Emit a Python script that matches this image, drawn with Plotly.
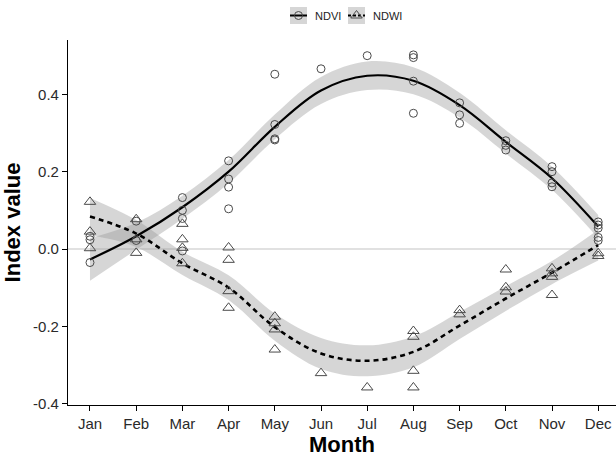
import plotly.graph_objects as go

# ---- data -------------------------------------------------------------
months = ["Jan", "Feb", "Mar", "Apr", "May", "Jun",
          "Jul", "Aug", "Sep", "Oct", "Nov", "Dec"]

# observed index values per month
ndvi_obs = {
    "Jan": [-0.035, 0.024, 0.033],
    "Feb": [0.072, 0.022],
    "Mar": [0.133, 0.100, 0.079, -0.005],
    "Apr": [0.228, 0.181, 0.160, 0.104],
    "May": [0.452, 0.322, 0.285, 0.282],
    "Jun": [0.466],
    "Jul": [0.500],
    "Aug": [0.502, 0.495, 0.434, 0.351],
    "Sep": [0.378, 0.347, 0.325],
    "Oct": [0.280, 0.268, 0.256],
    "Nov": [0.213, 0.200, 0.171, 0.161],
    "Dec": [0.070, 0.062, 0.054, 0.030, 0.022],
}
ndwi_obs = {
    "Jan": [0.122, 0.045, 0.002],
    "Feb": [0.077, 0.025, -0.010],
    "Mar": [0.065, 0.025, 0.003, -0.037],
    "Apr": [0.004, -0.028, -0.109, -0.152],
    "May": [-0.175, -0.192, -0.208, -0.260],
    "Jun": [-0.321],
    "Jul": [-0.358],
    "Aug": [-0.212, -0.227, -0.315, -0.358],
    "Sep": [-0.158, -0.169],
    "Oct": [-0.053, -0.099, -0.110],
    "Nov": [-0.050, -0.063, -0.072, -0.119],
    "Dec": [-0.011, -0.018],
}

# smoothed trend and confidence half-width per month
ndvi_fit = [-0.027, 0.033, 0.108, 0.200, 0.316, 0.410,
            0.448, 0.435, 0.372, 0.277, 0.183, 0.058]
ndvi_ci = [0.055, 0.035, 0.030, 0.030, 0.032, 0.035,
           0.037, 0.035, 0.032, 0.030, 0.030, 0.030]
ndwi_fit = [0.084, 0.040, -0.037, -0.100, -0.202, -0.270,
            -0.289, -0.266, -0.198, -0.128, -0.061, 0.010]
ndwi_ci = [0.048, 0.035, 0.030, 0.032, 0.035, 0.040,
           0.040, 0.040, 0.035, 0.032, 0.030, 0.040]

y_ticks = [-0.4, -0.2, 0.0, 0.2, 0.4]
y_tick_text = ["-0.4", "-0.2", "0.0", "0.2", "0.4"]

# ---- style ------------------------------------------------------------
FONT = "Liberation Sans, Arial, sans-serif"
BAND = "rgba(153,153,153,0.4)"
PT = "#4a4a4a"
W, H = 616, 458
ML, MR, MT, MB = 68, 0, 0, 53
PLOT_H = H - MT - MB

fig = go.Figure()


def add_band(fit, ci):
    lo = [f - c for f, c in zip(fit, ci)]
    hi = [f + c for f, c in zip(fit, ci)]
    fig.add_trace(go.Scatter(x=months, y=lo, mode="lines",
                             line=dict(width=0, shape="spline", smoothing=1),
                             hoverinfo="skip", showlegend=False))
    fig.add_trace(go.Scatter(x=months, y=hi, mode="lines", fill="tonexty",
                             fillcolor=BAND,
                             line=dict(width=0, shape="spline", smoothing=1),
                             hoverinfo="skip", showlegend=False))


def flatten(obs):
    xs, ys = [], []
    for m in months:
        for v in obs[m]:
            xs.append(m)
            ys.append(v)
    return xs, ys


add_band(ndvi_fit, ndvi_ci)
add_band(ndwi_fit, ndwi_ci)

fig.add_trace(go.Scatter(x=months, y=ndvi_fit, mode="lines",
                         line=dict(color="black", width=2.2, shape="spline", smoothing=1),
                         showlegend=False))
fig.add_trace(go.Scatter(x=months, y=ndwi_fit, mode="lines",
                         line=dict(color="black", width=2.6, dash="5px,4px",
                                   shape="spline", smoothing=1),
                         showlegend=False))

x1, y1 = flatten(ndvi_obs)
x2, y2 = flatten(ndwi_obs)
fig.add_trace(go.Scatter(x=x1, y=y1, mode="markers", showlegend=False,
                         marker=dict(symbol="circle-open", size=8,
                                     color=PT, line=dict(width=1, color=PT))))
fig.add_trace(go.Scatter(x=x2, y=y2, mode="markers", showlegend=False,
                         marker=dict(symbol="triangle-up-open", size=10,
                                     color=PT, line=dict(width=1, color=PT))))

# zero reference line
fig.add_shape(type="line", xref="paper", yref="y", x0=0, x1=1, y0=0, y1=0,
              line=dict(color="#c4c4c4", width=1.2), layer="below")

# ---- legend drawn on a pixel-unit helper axis --------------------------
LEG_H = 30
leg_items = [
    ("NDVI", "circle-open", 8, "solid", 2.0, 290),
    ("NDWI", "triangle-up-open", 10, "3px,2px", 2.0, 348),
]
key_w, key_cy = 17, 15.5
for name, sym, sz, dash, lw, kx in leg_items:
    fig.add_shape(type="rect", xref="x2", yref="y2", layer="below",
                  x0=kx, x1=kx + key_w, y0=key_cy - 8.5, y1=key_cy + 8.5,
                  fillcolor="#d6d6d6", line=dict(width=0))
    fig.add_shape(type="line", xref="x2", yref="y2", layer="below",
                  x0=kx, x1=kx + key_w, y0=key_cy, y1=key_cy,
                  line=dict(color="black", width=lw, dash=dash))
    fig.add_trace(go.Scatter(x=[kx + key_w / 2], y=[key_cy], xaxis="x2", yaxis="y2",
                             mode="markers", showlegend=False, hoverinfo="skip",
                             marker=dict(symbol=sym, size=sz, color=PT,
                                         line=dict(width=1, color=PT))))
    fig.add_annotation(xref="x2", yref="y2", x=kx + key_w + 6, y=key_cy,
                       text=name, showarrow=False, xanchor="left", yanchor="middle",
                       font=dict(family=FONT, size=11, color="#222"))

axis_top_px = 40
fig.update_layout(
    width=W, height=H,
    margin=dict(l=ML, r=MR, t=MT, b=MB),
    paper_bgcolor="white", plot_bgcolor="white",
    font=dict(family=FONT, color="#333"),
    showlegend=False,
    xaxis=dict(
        type="category", categoryorder="array", categoryarray=months,
        range=[-0.476, 11.385], domain=[0, 1],
        showline=True, linecolor="black", linewidth=1.1,
        ticks="outside", ticklen=5, tickcolor="black", tickwidth=1,
        tickfont=dict(size=15, color="#2a2a2a"),
        showgrid=False, zeroline=False,
        title=dict(text="<b>Month</b>", font=dict(size=22, color="black"), standoff=4),
    ),
    yaxis=dict(
        range=[-0.4034, 0.5405],
        domain=[0, (PLOT_H - axis_top_px) / PLOT_H],
        tickvals=y_ticks, ticktext=y_tick_text,
        showline=True, linecolor="black", linewidth=1.1,
        ticks="outside", ticklen=5, tickcolor="black", tickwidth=1,
        tickfont=dict(size=15, color="#2a2a2a"),
        showgrid=False, zeroline=False,
        title=dict(text="<b>Index value</b>", font=dict(size=22, color="black"), standoff=8),
    ),
    xaxis2=dict(domain=[0, 1], range=[ML, W], anchor="y2", visible=False,
                fixedrange=True),
    yaxis2=dict(domain=[(PLOT_H - LEG_H) / PLOT_H, 1], range=[LEG_H, 0], anchor="x2",
                visible=False, fixedrange=True),
)

fig.write_html("out.html")
